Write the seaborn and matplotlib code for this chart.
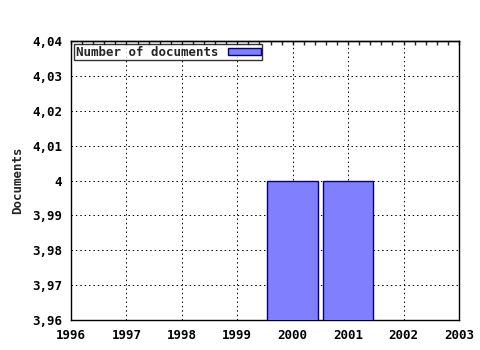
import matplotlib
matplotlib.use("Agg")
import matplotlib.pyplot as plt
import seaborn as sns
import pandas as pd
from matplotlib.ticker import FixedLocator, AutoMinorLocator, FuncFormatter, NullFormatter
from matplotlib.patches import Patch

years = [2000, 2001]
documents = [4, 4]
x_ticks = [1996, 1997, 1998, 1999, 2000, 2001, 2002, 2003]
y_ticks = [3.96, 3.97, 3.98, 3.99, 4.00, 4.01, 4.02, 4.03, 4.04]
series_label = "Number of documents"

sns.set_style("white")
plt.rcParams['font.family'] = ['DejaVu Sans Mono', 'DejaVu Sans']
plt.rcParams['font.weight'] = 'bold'

df = pd.DataFrame({"year": years, "docs": documents})

fig = plt.figure(figsize=(4.8, 3.5), dpi=100)
ax = fig.add_axes([71/480, 1 - 320/350, (459-71)/480, (320-41)/350])

bar_color = "#8080ff"
edge_color = "#000080"
ax.bar(df["year"], df["docs"], width=0.91, color=bar_color, edgecolor=edge_color, linewidth=1.0, zorder=3)

ax.set_xlim(1996, 2003)
ax.set_ylim(3.96, 4.04)
ax.xaxis.set_major_locator(FixedLocator(x_ticks))
ax.yaxis.set_major_locator(FixedLocator(y_ticks))
ax.xaxis.set_minor_locator(AutoMinorLocator(5))

def yfmt(v, pos):
    s = f"{v:.2f}".rstrip("0").rstrip(".")
    return s.replace(".", ",")
ax.yaxis.set_major_formatter(FuncFormatter(yfmt))
ax.xaxis.set_major_formatter(FuncFormatter(lambda v, p: f"{int(round(v))}"))

ax.grid(True, which="major", color="black", linestyle=(0, (1.5, 3)), linewidth=0.7, zorder=0)
ax.tick_params(axis="x", which="major", direction="inout", length=6, width=1, labelsize=9, colors="black", top=False)
ax.tick_params(axis="x", which="minor", direction="out", length=3, width=1, top=False)
ax.tick_params(axis="y", which="major", direction="inout", length=6, width=1, labelsize=9, colors="black", right=False)
for lbl in ax.get_xticklabels() + ax.get_yticklabels():
    lbl.set_fontweight("bold")
for sp in ax.spines.values():
    sp.set_visible(True)
    sp.set_color("black")
    sp.set_linewidth(1)

top = ax.secondary_xaxis("top")
top.xaxis.set_major_locator(FixedLocator(x_ticks))
top.xaxis.set_minor_locator(AutoMinorLocator(5))
top.xaxis.set_major_formatter(NullFormatter())
top.tick_params(which="both", direction="in", length=3, width=1)
top.spines["top"].set_linewidth(1)

ax.set_ylabel("Documents", fontsize=9, fontweight="bold", labelpad=6)

handle = Patch(facecolor=bar_color, edgecolor=edge_color, linewidth=1)
leg = ax.legend([handle], [series_label], loc="upper left", bbox_to_anchor=(0.0, 1.0),
                frameon=True, fancybox=False, edgecolor="black", fontsize=9,
                markerfirst=False, handlelength=2.6, handleheight=0.5,
                borderpad=0.12, borderaxespad=0.25, handletextpad=0.8)
leg.get_frame().set_linewidth(1)
for t in leg.get_texts():
    t.set_fontweight("bold")

fig.savefig("out.png", dpi=100, facecolor="white")
